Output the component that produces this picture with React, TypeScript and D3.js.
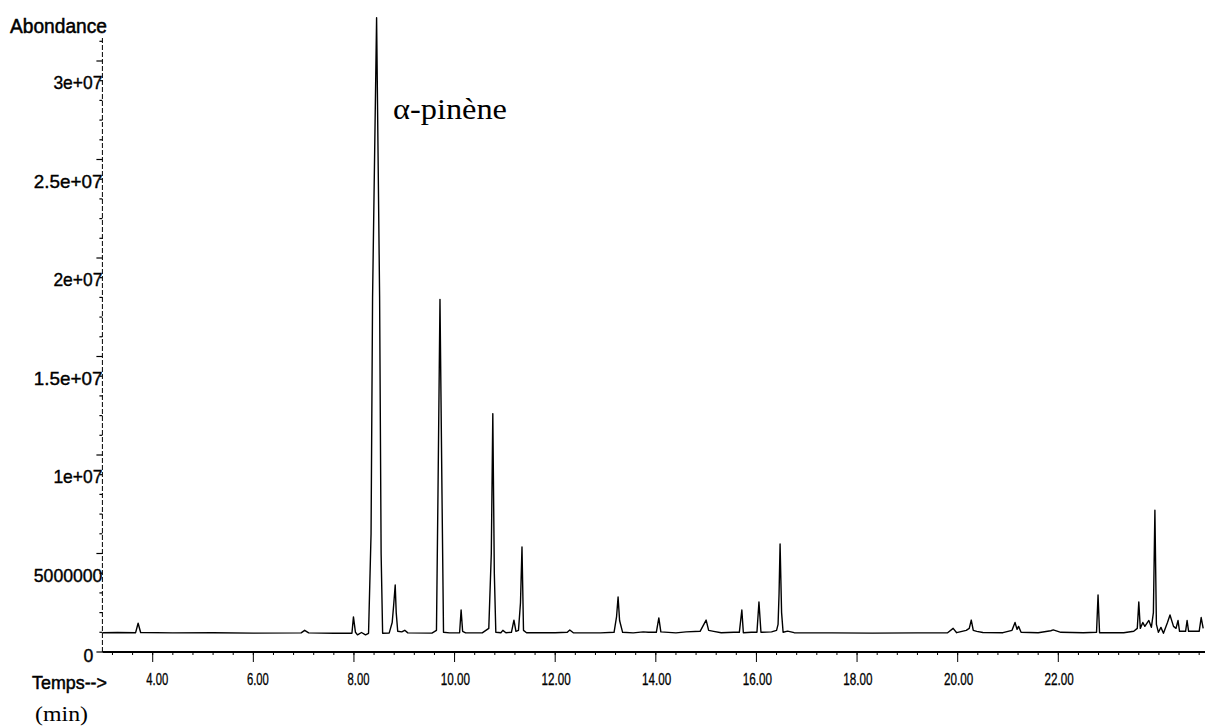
import * as React from 'react';
import * as d3 from 'd3';

const WIDTH = 1205;
const HEIGHT = 726;

// chromatogram trace: time (min) and abundance (millions)
const retentionTime = [
  3.0, 3.3, 3.66, 3.71, 3.76, 4.4, 5.2, 6.0, 6.95, 7.02, 7.1, 7.6, 7.96, 7.99, 8.03, 8.07, 8.15, 8.23,
  8.29, 8.34, 8.37, 8.45, 8.51, 8.54, 8.57, 8.7, 8.76, 8.79, 8.82, 8.84, 8.87, 8.95, 9.01, 9.07,
  9.55, 9.64, 9.67, 9.71, 9.75, 9.78, 9.9, 10.1, 10.13, 10.16, 10.22, 10.55, 10.68, 10.73, 10.76,
  10.79, 10.82, 10.92, 10.96, 11.02, 11.13, 11.18, 11.22, 11.27, 11.31, 11.34, 11.37, 11.43, 12.0,
  12.24, 12.29, 12.36, 12.9, 13.17, 13.22, 13.25, 13.28, 13.34, 13.55, 13.75, 13.85, 14.01, 14.06,
  14.1, 14.4, 14.6, 14.88, 15.0, 15.05, 15.15, 15.3, 15.55, 15.66, 15.71, 15.74, 15.9, 16.01, 16.05,
  16.09, 16.3, 16.4, 16.43, 16.45, 16.47, 16.5, 16.53, 16.62, 16.75, 17.5, 18.3, 19.2, 19.8, 19.91,
  19.98, 20.17, 20.23, 20.27, 20.31, 20.38, 20.5, 20.9, 21.08, 21.14, 21.18, 21.21, 21.26, 21.6,
  21.85, 21.9, 22.05, 22.5, 22.76, 22.79, 22.82, 23.3, 23.5, 23.57, 23.6, 23.63, 23.68, 23.72, 23.8,
  23.85, 23.89, 23.92, 23.95, 23.99, 24.04, 24.09, 24.17, 24.22, 24.29, 24.34, 24.38, 24.41, 24.53,
  24.56, 24.59, 24.8, 24.84, 24.88,
];
const abundanceMillions = [
  0.98, 0.99, 0.98, 1.46, 0.99, 0.97, 0.98, 0.96, 0.97, 1.1, 0.97, 0.95, 0.95, 1.78, 1.0, 0.87, 0.99, 0.87,
  0.95, 6.0, 18.0, 32.2, 18.0, 5.0, 0.95, 0.96, 1.5, 2.4, 3.4, 2.0, 1.05, 1.02, 1.1, 0.97,
  0.96, 1.1, 8.0, 17.9, 8.0, 1.0, 0.97, 0.98, 2.13, 1.05, 0.97, 0.97, 1.2, 5.0, 12.1,
  4.0, 1.0, 0.98, 1.1, 0.98, 1.0, 1.62, 1.05, 1.1, 2.5, 5.33, 1.1, 0.98, 0.98,
  1.0, 1.12, 0.98, 0.97, 1.0, 1.8, 2.79, 1.6, 1.0, 0.97, 1.02, 1.0, 1.0, 1.73,
  1.02, 0.97, 1.02, 1.05, 1.62, 1.1, 1.05, 0.98, 1.0, 1.0, 2.13, 0.98, 1.0, 1.0, 2.54,
  1.0, 1.02, 1.1, 1.4, 3.0, 5.48, 2.0, 1.0, 1.06, 0.98, 0.97, 0.96, 0.97, 0.98, 1.2,
  0.98, 1.1, 1.2, 1.62, 1.1, 1.05, 0.99, 0.98, 1.1, 1.5, 1.15, 1.3, 1.0, 0.98,
  1.08, 1.12, 1.0, 0.98, 1.0, 2.89, 0.98, 0.98, 1.05, 1.2, 2.54, 1.2, 1.5, 1.3, 1.6,
  1.25, 2.0, 7.2, 1.4, 1.0, 1.25, 0.95, 1.5, 1.88, 1.3, 1.2, 1.6, 1.05, 1.05,
  1.6, 1.05, 1.05, 1.75, 1.2,
];

const yTicks = [0, 5e6, 1e7, 1.5e7, 2e7, 2.5e7, 3e7];
const yTickLabels = ['0', '5000000', '1e+07', '1.5e+07', '2e+07', '2.5e+07', '3e+07'];
const xTicks = [4, 6, 8, 10, 12, 14, 16, 18, 20, 22];
const xTickLabels = ['4.00', '6.00', '8.00', '10.00', '12.00', '14.00', '16.00', '18.00', '20.00', '22.00'];

const x = d3.scaleLinear().domain([3, 24.9]).range([102.4, 1204.2]);
const y = d3.scaleLinear().domain([0, 3.2e7]).range([652, 21.6]);

const sans = 'Liberation Sans, Arial, sans-serif';
const serif = 'Liberation Serif, Times New Roman, serif';

export default function App() {
  const points: [number, number][] = retentionTime.map((t, i) => [t, abundanceMillions[i] * 1e6]);
  const line = d3
    .line<[number, number]>()
    .x(d => x(d[0]))
    .y(d => y(d[1]));

  const yMinor = d3.range(0, 3.1e7 + 1, 1e6);
  const xMinor = d3.range(3.2, 24.9, 0.4);
  const x0 = x(3);
  const yBase = y(0);

  return (
    <div style={{ position: 'absolute', left: 0, top: 0 }}>
      <svg width={WIDTH} height={HEIGHT} style={{ display: 'block', background: '#fff' }}>
        {/* y axis */}
        <line x1={x0} x2={x0} y1={yBase} y2={y(3.12e7)} stroke="#000" strokeWidth={1} strokeDasharray="5 2" />
        {yMinor.map(v => (
          <line key={'ym' + v} x1={x0 - (v % 5e6 === 0 ? 6 : 3)} x2={x0} y1={y(v)} y2={y(v)} stroke="#000" strokeWidth={1.2} />
        ))}
        {yTicks.map((v, i) => (
          <text
            key={'yl' + v}
            x={v === 0 ? x0 - 9 : x0}
            y={v === 0 ? yBase + 10 : y(v) + 28}
            textAnchor="end"
            fontFamily={sans}
            fontSize={19}
            textLength={yTickLabels[i].length * 9.8}
            lengthAdjust="spacingAndGlyphs"
            stroke="#000"
            strokeWidth={0.4}
          >
            {yTickLabels[i]}
          </text>
        ))}

        {/* x axis */}
        <line x1={x0} x2={WIDTH} y1={yBase} y2={yBase} stroke="#000" strokeWidth={1.8} />
        {xMinor.map(t => (
          <line key={'xm' + t} x1={x(t)} x2={x(t)} y1={yBase - 1} y2={yBase + 3} stroke="#000" strokeWidth={1} />
        ))}
        {xTicks.map((t, i) => (
          <g key={'xt' + t}>
            <line x1={x(t)} x2={x(t)} y1={yBase} y2={yBase + 10} stroke="#000" strokeWidth={1} />
            <text
              x={x(t) + 15.5}
              y={685}
              textAnchor="end"
              fontFamily={sans}
              fontSize={16}
              textLength={xTickLabels[i].replace('.', '').length * 7.3}
              lengthAdjust="spacingAndGlyphs"
              stroke="#000"
              strokeWidth={0.3}
            >
              {xTickLabels[i]}
            </text>
          </g>
        ))}

        {/* trace */}
        <path d={line(points) || ''} fill="none" stroke="#000" strokeWidth={1.4} strokeLinejoin="round" />

        {/* labels */}
        <text x={10} y={33} fontFamily={sans} fontSize={20} textLength={97} lengthAdjust="spacingAndGlyphs" stroke="#000" strokeWidth={0.5}>
          Abondance
        </text>
        <text x={32} y={689} fontFamily={sans} fontSize={19} textLength={75} lengthAdjust="spacingAndGlyphs" stroke="#000" strokeWidth={0.5}>
          Temps--&gt;
        </text>
        <text x={35} y={721} fontFamily={serif} fontSize={20} textLength={53} lengthAdjust="spacingAndGlyphs">
          (min)
        </text>
        <text x={393} y={119} fontFamily={serif} fontSize={30} textLength={114} lengthAdjust="spacingAndGlyphs">
          α-pinène
        </text>
      </svg>
    </div>
  );
}
